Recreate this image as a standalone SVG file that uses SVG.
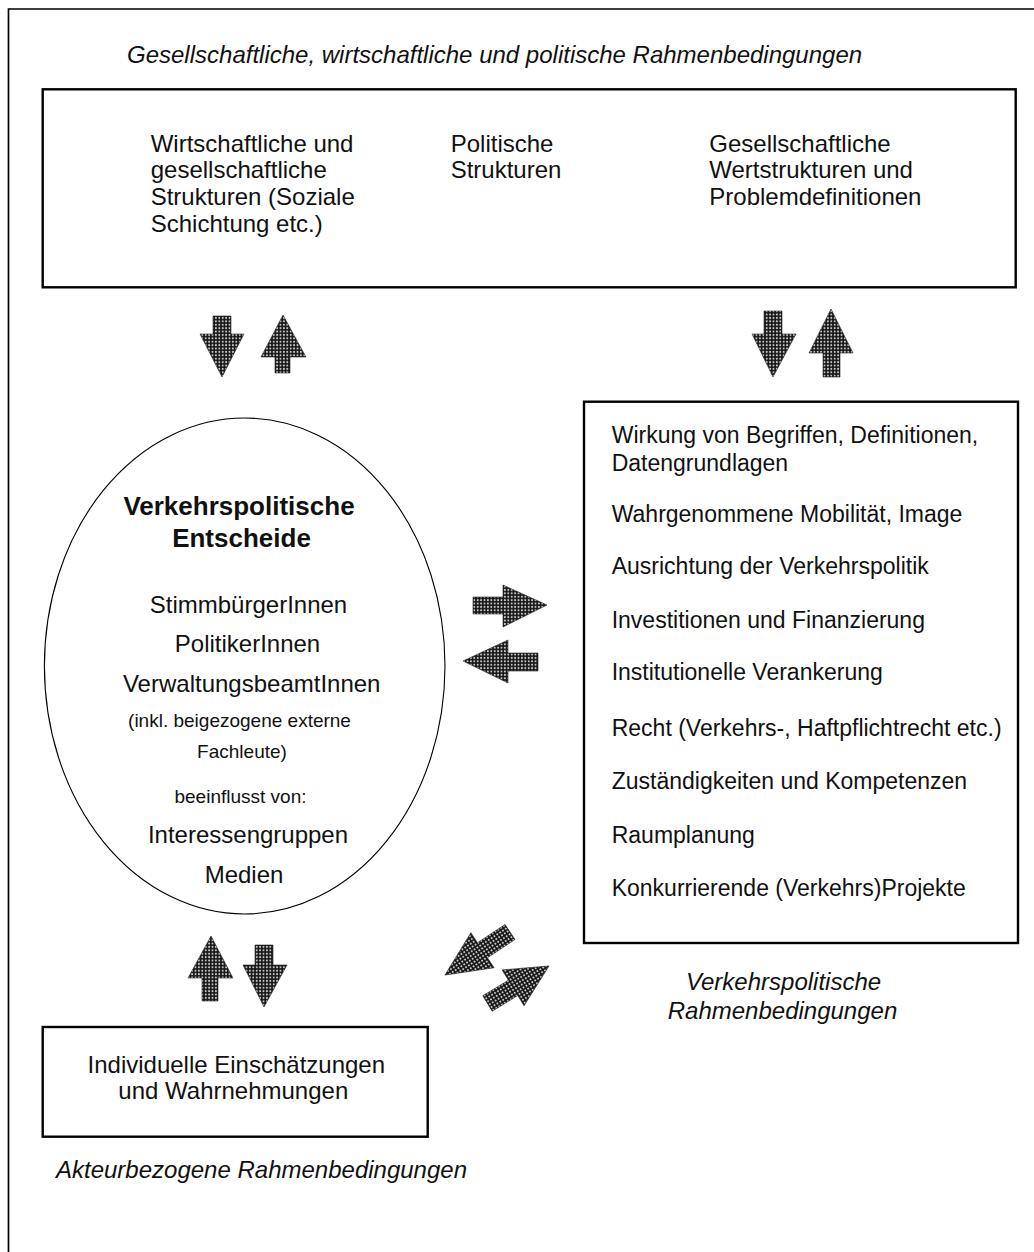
<svg xmlns="http://www.w3.org/2000/svg" width="1034" height="1252" viewBox="0 0 1034 1252">
<style>
.t{font-family:"Liberation Sans",Arial,sans-serif;fill:#111}
.b24{font-size:24px}
.b23{font-size:23px}
.it{font-size:24px;font-style:italic}
.bold{font-size:26px;font-weight:bold}
.sm{font-size:19px}
.mid{text-anchor:middle}
.box{fill:none;stroke:#000;stroke-width:2.4}
.arr{fill:url(#dots);stroke:#222;stroke-width:0.6}
</style>
<defs>
<pattern id="dots" width="3.4" height="3.4" patternUnits="userSpaceOnUse">
<rect width="3.4" height="3.4" fill="#151515"/>
<circle cx="1.7" cy="1.7" r="1.0" fill="#c8c8c8"/>
</pattern>
</defs>
<rect width="1034" height="1252" fill="#fff"/>
<g id="frame">
<path d="M8.5,1252 V9 H1034" fill="none" stroke="#000" stroke-width="1.7"/>
<text class="t it" x="127" y="63">Gesellschaftliche, wirtschaftliche und politische Rahmenbedingungen</text>
</g>
<g id="top-box">
<rect class="box" x="42.7" y="89.3" width="973" height="198" stroke-width="2.6"/>
<text class="t b24" x="150.7" y="151.7">Wirtschaftliche und</text>
<text class="t b24" x="150.7" y="178.3">gesellschaftliche</text>
<text class="t b24" x="150.7" y="205">Strukturen (Soziale</text>
<text class="t b24" x="150.7" y="231.7">Schichtung etc.)</text>
<text class="t b24" x="450.7" y="151.7">Politische</text>
<text class="t b24" x="450.7" y="178.3">Strukturen</text>
<text class="t b24" x="709.3" y="151.7">Gesellschaftliche</text>
<text class="t b24" x="709.3" y="178.3">Wertstrukturen und</text>
<text class="t b24" x="709.3" y="205">Problemdefinitionen</text>
</g>
<g id="decision-ellipse">
<ellipse cx="244.7" cy="666" rx="200.3" ry="248" fill="none" stroke="#000" stroke-width="1.1"/>
<text class="t bold mid" x="239" y="515">Verkehrspolitische</text>
<text class="t bold mid" x="241.5" y="546.7">Entscheide</text>
<text class="t b24 mid" x="248.5" y="613.3">StimmbürgerInnen</text>
<text class="t b24 mid" x="247.5" y="651.7">PolitikerInnen</text>
<text class="t b24 mid" x="251.7" y="692.3">VerwaltungsbeamtInnen</text>
<text class="t sm mid" x="239.5" y="726.7">(inkl. beigezogene externe</text>
<text class="t sm mid" x="242" y="758.3">Fachleute)</text>
<text class="t sm mid" x="240.5" y="803.3">beeinflusst von:</text>
<text class="t b24 mid" x="248" y="843.3">Interessengruppen</text>
<text class="t b24 mid" x="244" y="883.3">Medien</text>
</g>
<g id="transport-box">
<rect class="box" x="584" y="401.7" width="434" height="541.3"/>
<text class="t b23" x="611.7" y="443.3">Wirkung von Begriffen, Definitionen,</text>
<text class="t b23" x="611.7" y="471">Datengrundlagen</text>
<text class="t b23" x="611.7" y="521.7">Wahrgenommene Mobilität, Image</text>
<text class="t b23" x="611.7" y="574.3">Ausrichtung der Verkehrspolitik</text>
<text class="t b23" x="611.7" y="628.3">Investitionen und Finanzierung</text>
<text class="t b23" x="611.7" y="680">Institutionelle Verankerung</text>
<text class="t b23" x="611.7" y="736">Recht (Verkehrs-, Haftpflichtrecht etc.)</text>
<text class="t b23" x="611.7" y="789.3">Zuständigkeiten und Kompetenzen</text>
<text class="t b23" x="611.7" y="842.7">Raumplanung</text>
<text class="t b23" x="611.7" y="896">Konkurrierende (Verkehrs)Projekte</text>
<text class="t it mid" x="783.5" y="990">Verkehrspolitische</text>
<text class="t it mid" x="782.5" y="1019.3">Rahmenbedingungen</text>
</g>
<g id="individual-box">
<rect class="box" x="42.7" y="1027" width="385" height="109.7"/>
<text class="t b24 mid" x="236.3" y="1073.3">Individuelle Einschätzungen</text>
<text class="t b24 mid" x="233.3" y="1099.3">und Wahrnehmungen</text>
<text class="t it" x="56" y="1178.3">Akteurbezogene Rahmenbedingungen</text>
</g>
<g id="connectors">
<polygon class="arr" points="213,316 231,316 231,334 244,334 222,377 200,334 213,334"/>
<polygon class="arr" points="275,373 290,373 290,357 306,357 283,315 261,357 275,357"/>
<polygon class="arr" points="764,311 782,311 782,334 796,334 773,377 752,334 764,334"/>
<polygon class="arr" points="823,377 840,377 840,353 853,353 831,309 809,353 823,353"/>
<polygon class="arr" points="473,597 503,597 503,585 547,605 503,627 503,614 473,614"/>
<polygon class="arr" points="538,653 508,653 508,640 463,661 508,683 508,671 538,671"/>
<g transform="translate(510,932) rotate(146.5)"><polygon class="arr" points="0,-9 33,-9 33,-21 78,0 33,21 33,9 0,9"/></g>
<g transform="translate(487.5,1003.5) rotate(-31.4)"><polygon class="arr" points="0,-9 30,-9 30,-21 72,0 30,21 30,9 0,9"/></g>
<polygon class="arr" points="202,1001 218,1001 218,978 233,978 211,936 188,978 202,978"/>
<polygon class="arr" points="255,945 273,945 273,965 287,965 264,1007 243,965 255,965"/>
</g>
</svg>
